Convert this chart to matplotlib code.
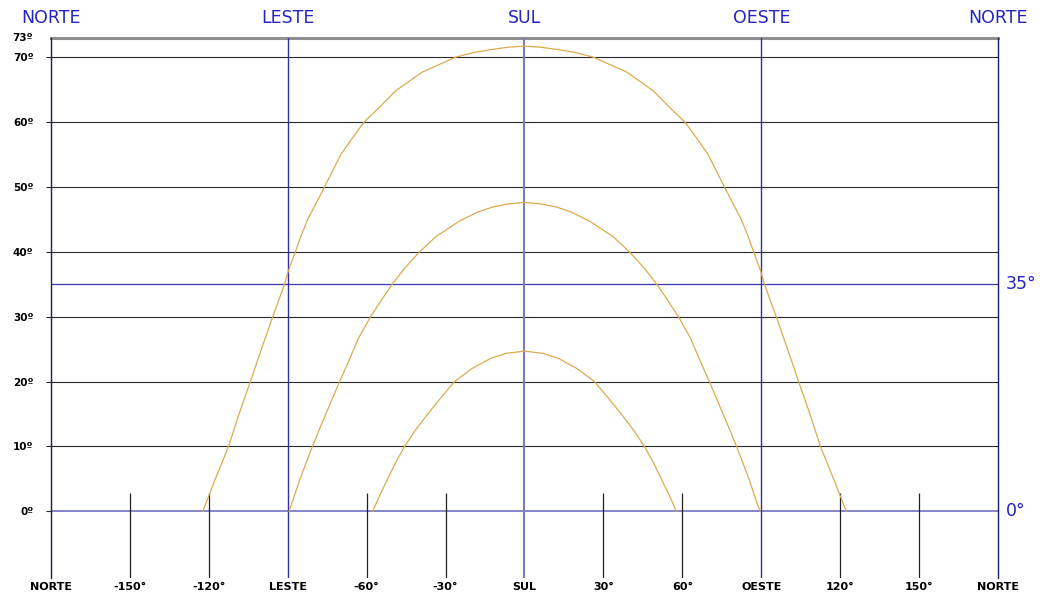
from matplotlib import pyplot as plt
from matplotlib import transforms as mtrans

# azimute (graus, SUL = 0) e altura solar (graus)
az_outer = [-122.3, -117.5, -112.5, -108.5, -104.2, -100.0, -95.7, -91.2, -89.8, -87.1, -84.9,
            -82.4, -79.2, -76.0, -69.8, -66.0, -61.0, -55.3, -49.0, -38.9, -26.2, -19.0,
            -12.2, -6.0, 0.0,
            6.0, 12.2, 19.0, 26.2, 38.9, 49.0, 55.3, 61.0, 66.0, 69.8, 76.0, 79.2,
            82.4, 84.9, 87.1, 89.8, 91.2, 95.7, 100.0, 104.2, 108.5, 112.5, 117.5, 122.3]
alt_outer = [0, 5, 10, 15, 20, 25, 30, 35, 37, 40, 42.5,
             45, 47.5, 50, 55, 57.2, 60, 62.2, 64.8, 67.7, 70, 70.75,
             71.2, 71.55, 71.7,
             71.55, 71.2, 70.75, 70, 67.7, 64.8, 62.2, 60, 57.2, 55, 50, 47.5,
             45, 42.5, 40, 37, 35, 30, 25, 20, 15, 10, 5, 0]

az_mid = [-89.5, -87.4, -85.3, -83.0, -80.6, -78.1, -75.5, -72.9, -70.3, -67.5, -63.1, -58.5,
          -54.5, -50.3, -45.5, -40.1, -33.8, -24.9, -18.0, -12.2, -6.0, 0.0,
          6.0, 12.2, 18.0, 24.9, 33.8, 40.1, 45.5, 50.3, 54.5, 58.5, 63.1, 67.5,
          70.3, 72.9, 75.5, 78.1, 80.6, 83.0, 85.3, 87.4, 89.5]
alt_mid = [0, 2.5, 5, 7.5, 10, 12.5, 15, 17.5, 20, 22.5, 26.7, 30,
           32.5, 35, 37.5, 39.9, 42.3, 44.7, 46.1, 46.9, 47.4, 47.6,
           47.4, 46.9, 46.1, 44.7, 42.3, 39.9, 37.5, 35, 32.5, 30, 26.7, 22.5,
           20, 17.5, 15, 12.5, 10, 7.5, 5, 2.5, 0]

az_inner = [-57.7, -55.0, -52.0, -49.0, -45.6, -41.5, -36.8, -32.0, -26.6, -20.0, -13.0, -7.0, 0.0,
            7.0, 13.0, 20.0, 26.6, 32.0, 36.8, 41.5, 45.6, 49.0, 52.0, 55.0, 57.7]
alt_inner = [0, 2.5, 5, 7.5, 10, 12.5, 15, 17.4, 20, 22.0, 23.55, 24.35, 24.7,
             24.35, 23.55, 22.0, 20, 17.4, 15, 12.5, 10, 7.5, 5, 2.5, 0]

x_ticks = [-180, -150, -120, -90, -60, -30, 0, 30, 60, 90, 120, 150, 180]
x_labels = ["NORTE", "-150°", "-120°", "LESTE", "-60°", "-30°", "SUL",
            "30°", "60°", "OESTE", "120°", "150°", "NORTE"]
top_pos = [-180, -90, 0, 90, 180]
top_labels = ["NORTE", "LESTE", "SUL", "OESTE", "NORTE"]
y_ticks = [0, 10, 20, 30, 40, 50, 60, 70]
y_labels = ["0º", "10º", "20º", "30º", "40º", "50º", "60º", "70º"]

fig = plt.figure(figsize=(10.42, 5.96), dpi=100)
ax = fig.add_axes([0.0489, 0.031, 0.9089, 0.9057])
ax.set_xlim(-180, 180)
ax.set_ylim(-10.2, 73)
for s in ax.spines.values():
    s.set_visible(False)

# linhas horizontais
for y in y_ticks[1:]:
    ax.axhline(y, color="#2a2a2a", lw=0.8, zorder=1)
ax.axhline(73, color="#909090", lw=2.2, zorder=1, clip_on=False)
ax.axhline(35, color="#3838b0", lw=0.9, zorder=1)
ax.axhline(0, color="#7070c0", lw=1.2, zorder=1)

# linhas verticais
ax.axvline(-180, color="#1c1c50", lw=1.0, zorder=2, clip_on=False)
ax.axvline(180, color="#1c1c70", lw=1.0, zorder=2, clip_on=False)
ax.axvline(-90, color="#3030a0", lw=1.0, zorder=2)
ax.axvline(90, color="#3030a0", lw=1.0, zorder=2)
ax.axvline(0, color="#7c7cc0", lw=1.5, zorder=2)
minor = [t for t in x_ticks if t not in top_pos]
ax.vlines(minor, -10.2, 2.9, color="#202020", lw=0.9, zorder=2)

# trajetorias do sol
for az, alt in [(az_outer, alt_outer), (az_mid, alt_mid), (az_inner, alt_inner)]:
    ax.plot(az, alt, color="#dcaa50", lw=0.9, zorder=3)

ax.set_xticks(x_ticks)
ax.set_xticklabels(x_labels, fontsize=8, fontweight="bold")
ax.tick_params(axis="x", length=0, pad=3)
ax.set_yticks(y_ticks)
ax.set_yticklabels(y_labels, fontsize=7.5, fontweight="bold")
ax.tick_params(axis="y", length=3.6, width=0.8, color="#2a2a2a", pad=9)
ax.text(-180, 73, "73º", fontsize=7.5, fontweight="bold", ha="right", va="center",
        transform=ax.transData + mtrans.ScaledTranslation(-18 / 100, 0, fig.dpi_scale_trans))

trans = mtrans.blended_transform_factory(ax.transData, ax.transAxes)
for x, lab in zip(top_pos, top_labels):
    ax.text(x, 1.036, lab, color="#2424c0", fontsize=12.5, ha="center", va="center",
            transform=trans, clip_on=False)

for y, lab in [(35, "35°"), (0, "0°")]:
    ax.text(182.8, y, lab, color="#2424c0", fontsize=12.5, ha="left", va="center", clip_on=False)

fig.savefig("out.png", dpi=100)
